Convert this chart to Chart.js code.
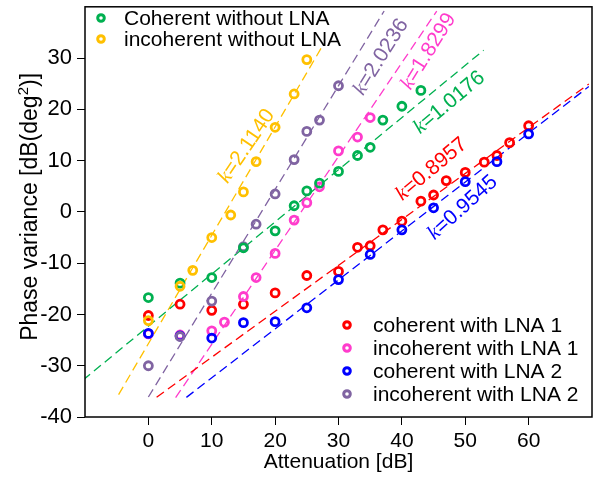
<!DOCTYPE html>
<html>
<head>
<meta charset="utf-8">
<title>Phase variance vs attenuation</title>
<script src="https://cdn.jsdelivr.net/npm/chart.js@4.4.0/dist/chart.umd.min.js"></script>
<style>
  html, body { margin: 0; padding: 0; background: #fff; }
  #wrap { width: 601px; height: 482px; }
</style>
</head>
<body>
<div id="wrap"><canvas id="phaseChart" width="601" height="482"></canvas></div>
<script>
// attenuation [dB] and measured phase variance [dB(deg^2)] per setup
var attCohLna1 = [0, 5, 10, 15, 20, 25, 30, 33, 35, 37, 40, 43, 45, 47, 50, 53, 55, 57, 60];
var varCohLna1 = [-20.2, -18, -19.2, -18, -15.8, -12.4, -11.6, -6.9, -6.6, -3.5, -1.8, 2.1, 3.3, 6.1, 7.7, 9.7, 11, 13.5, 16.8];

var attIncohLna1 = [0, 5, 10, 12, 15, 17, 20, 23, 25, 27, 30, 33, 35];
var varIncohLna1 = [-23.8, -24, -23.2, -21.5, -16.5, -12.8, -8.1, -1.6, 1.8, 4.9, 11.9, 14.6, 18.4];

var attCohLna2 = [0, 5, 10, 15, 20, 25, 30, 35, 40, 45, 50, 55, 60];
var varCohLna2 = [-23.7, -24.2, -24.6, -21.6, -21.4, -18.7, -13.2, -8.3, -3.5, 0.8, 5.9, 9.8, 15.2];

var attIncohLna2 = [0, 5, 10, 15, 17, 20, 23, 25, 27, 30];
var varIncohLna2 = [-30, -24.3, -17.4, -6.8, -2.4, 3.5, 10.2, 15.7, 17.9, 24.6];

var attCohNoLna = [0, 5, 10, 15, 20, 23, 25, 27, 30, 33, 35, 37, 40, 43];
var varCohNoLna = [-16.7, -13.9, -12.8, -7, -3.7, 1.2, 4.1, 5.6, 7.9, 11, 12.6, 17.9, 20.6, 23.7];

var attIncohNoLna = [0, 5, 7, 10, 13, 15, 17, 20, 23, 25];
var varIncohNoLna = [-21.2, -14.5, -11.4, -5, -0.6, 3.9, 9.8, 16.5, 23, 29.7];

var seriesNames = ['coherent with LNA 1', 'incoherent with LNA 1', 'coherent with LNA 2',
                   'incoherent with LNA 2', 'Coherent without LNA', 'incoherent without LNA'];
var seriesColors = ['#ff0000', '#ff3ccc', '#0000ff', '#8064a2', '#00b050', '#ffc000'];

// linear fits y = k*x + b, drawn over [fitFrom, fitTo]
var fitSlope = [0.8957, 1.8299, 0.9545, 2.0236, 1.0176, 2.1140];
var fitIntercept = [-37.3, -44.1, -41.9, -36.1, -22.3, -25.7];
var fitFrom = [1.3, 4.3, 6.0, 0, -12, -4.7];
var fitTo = [69.5, 45.5, 69.5, 37.2, 52.9, 27.3];

var xTicks = [0, 10, 20, 30, 40, 50, 60];
var yTicks = [-40, -30, -20, -10, 0, 10, 20, 30];

var attSets = [attCohLna1, attIncohLna1, attCohLna2, attIncohLna2, attCohNoLna, attIncohNoLna];
var varSets = [varCohLna1, varIncohLna1, varCohLna2, varIncohLna2, varCohNoLna, varIncohNoLna];

// where each "k=..." label sits (data coords of its centre) and its tilt in degrees
var slopeLabels = [
  { x: 44.7, y: 8.3, deg: 40 },
  { x: 44.2, y: 31.3, deg: 58 },
  { x: 49.6, y: 0.8, deg: 42 },
  { x: 36.7, y: 30.2, deg: 58 },
  { x: 47.5, y: 21.3, deg: 40 },
  { x: 15.5, y: 12.8, deg: 56 }
];

// marker stacking: later series sit on top
var pointOrder = [16, 15, 14, 13, 12, 11];

var FONT = "'Liberation Sans', Arial, Helvetica, sans-serif";
Chart.defaults.font.family = FONT;
Chart.defaults.color = '#000';

var datasets = [];
for (var i = 0; i < 6; i++) {
  var pts = attSets[i].map(function (a, j) { return { x: a, y: varSets[i][j] }; });
  datasets.push({
    label: seriesNames[i],
    data: pts,
    showLine: false,
    pointStyle: 'circle',
    pointRadius: 4,
    pointHoverRadius: 4,
    pointBorderWidth: 2.8,
    borderColor: seriesColors[i],
    backgroundColor: 'rgba(0,0,0,0)',
    order: pointOrder[i]
  });
}
for (var i = 0; i < 6; i++) {
  datasets.push({
    label: 'fit ' + seriesNames[i],
    data: [
      { x: fitFrom[i], y: fitSlope[i] * fitFrom[i] + fitIntercept[i] },
      { x: fitTo[i], y: fitSlope[i] * fitTo[i] + fitIntercept[i] }
    ],
    showLine: true,
    pointRadius: 0,
    borderColor: seriesColors[i],
    borderWidth: 1.3,
    borderDash: [9, 5],
    backgroundColor: 'rgba(0,0,0,0)',
    order: 30
  });
}

// box around the plot area
var frame = {
  id: 'frame',
  afterDraw: function (chart) {
    var a = chart.chartArea, ctx = chart.ctx;
    ctx.save();
    ctx.strokeStyle = '#000';
    ctx.lineWidth = 1.5;
    ctx.strokeRect(a.left, a.top, a.right - a.left, a.bottom - a.top);
    ctx.restore();
  }
};

// y axis title with a real superscript
var yTitle = {
  id: 'yTitle',
  afterDraw: function (chart, args, opts) {
    var ctx = chart.ctx, a = chart.chartArea;
    var big = opts.size + 'px ' + FONT, small = Math.round(opts.size * 0.65) + 'px ' + FONT;
    ctx.save();
    ctx.font = big;
    var w1 = ctx.measureText(opts.before).width, w3 = ctx.measureText(opts.after).width;
    ctx.font = small;
    var w2 = ctx.measureText(opts.sup).width;
    var w = w1 + w2 + w3;
    ctx.translate(opts.x, (a.top + a.bottom) / 2 + opts.shift);
    ctx.rotate(-Math.PI / 2);
    ctx.fillStyle = '#000';
    ctx.textBaseline = 'alphabetic';
    ctx.textAlign = 'left';
    var base = opts.size * 0.36;
    ctx.font = big;
    ctx.fillText(opts.before, -w / 2, base);
    ctx.font = small;
    ctx.fillText(opts.sup, -w / 2 + w1, base - opts.size * 0.4);
    ctx.font = big;
    ctx.fillText(opts.after, -w / 2 + w1 + w2, base);
    ctx.restore();
  }
};

// two marker-only legends
var twoLegends = {
  id: 'twoLegends',
  afterDraw: function (chart, args, opts) {
    var ctx = chart.ctx;
    ctx.save();
    ctx.font = '21px ' + FONT;
    ctx.textBaseline = 'middle';
    ctx.textAlign = 'left';
    opts.groups.forEach(function (g) {
      g.items.forEach(function (idx, r) {
        var y = g.y + r * g.dy;
        ctx.beginPath();
        ctx.arc(g.x, y, 3.3, 0, Math.PI * 2);
        ctx.strokeStyle = seriesColors[idx];
        ctx.lineWidth = 3;
        ctx.stroke();
        ctx.fillStyle = '#000';
        ctx.fillText(seriesNames[idx], g.x + g.gap, y + 1);
      });
    });
    ctx.restore();
  }
};

// rotated "k=slope" annotations next to each fit
var slopeText = {
  id: 'slopeText',
  afterDatasetsDraw: function (chart) {
    var ctx = chart.ctx, xs = chart.scales.x, ys = chart.scales.y;
    ctx.save();
    slopeLabels.forEach(function (lb, i) {
      var px = xs.getPixelForValue(lb.x), py = ys.getPixelForValue(lb.y);
      var rest = '=' + fitSlope[i].toFixed(4);
      ctx.font = 'italic 21px "Liberation Serif", "Times New Roman", serif';
      var wk = ctx.measureText('k').width;
      ctx.font = '21px ' + FONT;
      var wr = ctx.measureText(rest).width;
      var w = wk + wr;
      ctx.save();
      ctx.translate(px, py);
      ctx.rotate(-lb.deg * Math.PI / 180);
      ctx.fillStyle = seriesColors[i];
      ctx.textBaseline = 'middle';
      ctx.textAlign = 'left';
      ctx.font = 'italic 21px "Liberation Serif", "Times New Roman", serif';
      ctx.fillText('k', -w / 2, 0);
      ctx.font = '21px ' + FONT;
      ctx.fillText(rest, -w / 2 + wk, 0);
      ctx.restore();
    });
    ctx.restore();
  }
};

new Chart(document.getElementById('phaseChart'), {
  type: 'scatter',
  data: { datasets: datasets },
  options: {
    responsive: false,
    devicePixelRatio: 1,
    animation: false,
    events: [],
    layout: { padding: { top: 3, right: 9, left: 0, bottom: 0 } },
    plugins: {
      legend: { display: false },
      tooltip: { enabled: false },
      yTitle: { before: 'Phase variance [dB(deg', sup: '2', after: ')]', size: 23, x: 29, shift: -5 },
      twoLegends: {
        groups: [
          { items: [4, 5], x: 101, y: 18, dy: 21, gap: 23 },
          { items: [0, 1, 2, 3], x: 347, y: 325, dy: 23, gap: 26 }
        ]
      }
    },
    scales: {
      x: {
        type: 'linear',
        min: -10,
        max: 70,
        afterBuildTicks: function (axis) { axis.ticks = xTicks.map(function (v) { return { value: v }; }); },
        afterFit: function (scale) { scale.height = 65; scale.paddingLeft = 0; scale.paddingRight = 0; },
        border: { display: false },
        grid: { drawOnChartArea: false, drawTicks: true, tickLength: 8, color: '#000', lineWidth: 1 },
        ticks: { font: { size: 21 }, color: '#000', padding: 4, maxRotation: 0 },
        title: { display: true, text: 'Attenuation [dB]', font: { size: 21 }, color: '#000', padding: { top: 0, bottom: 7 } }
      },
      y: {
        type: 'linear',
        min: -40,
        max: 40,
        afterBuildTicks: function (axis) { axis.ticks = yTicks.map(function (v) { return { value: v }; }); },
        afterFit: function (scale) { scale.width = 85; scale.paddingTop = 0; scale.paddingBottom = 0; },
        border: { display: false },
        grid: { drawOnChartArea: false, drawTicks: true, tickLength: 8, color: '#000', lineWidth: 1 },
        ticks: { font: { size: 22 }, color: '#000', padding: 5 },
        title: { display: false }
      }
    }
  },
  plugins: [frame, yTitle, twoLegends, slopeText]
});
</script>
</body>
</html>
